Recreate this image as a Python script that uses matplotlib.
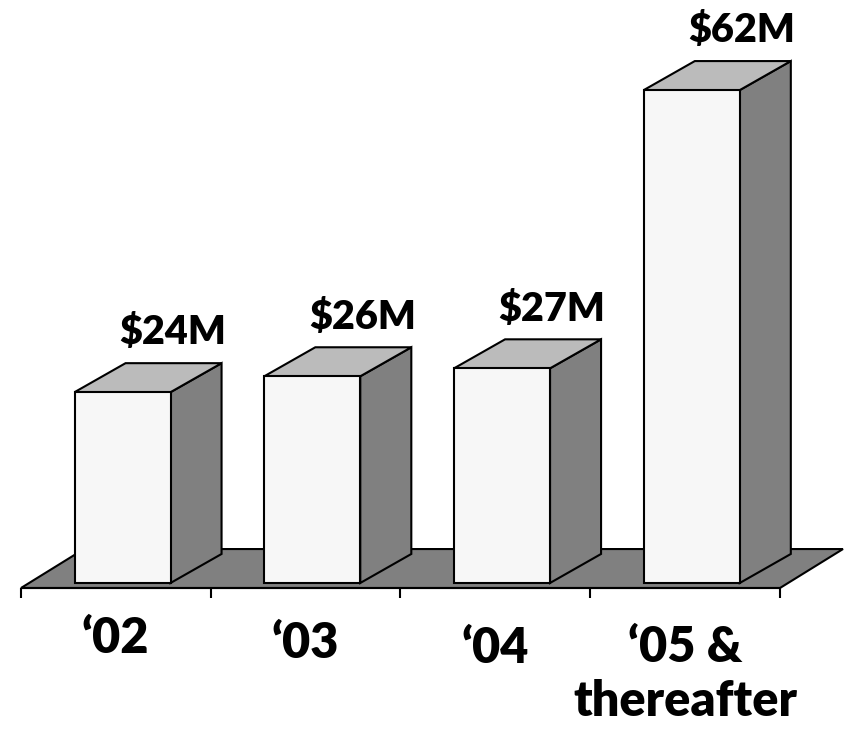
import matplotlib
matplotlib.use("Agg")
import matplotlib.pyplot as plt
from matplotlib.patches import Polygon

# data
categories = ["\u201802", "\u201803", "\u201804", "\u201805 &\nthereafter"]
values = [24, 26, 27, 62]
value_labels = ["$24M", "$26M", "$27M", "$62M"]

# 3d look (data units: x = category slots, y = $M)
bar_w = 0.506
floor_dx, floor_dy = 0.332, 4.9
front_dx, front_dy = 0.035, 0.63
depth_dx, depth_dy = 0.269, 3.65

FRONT = "#f7f7f7"
TOP = "#bbbbbb"
SIDE = "#808080"
lw = 1.5

fig = plt.figure(figsize=(8.45, 7.29), dpi=100)
ax = fig.add_axes([0, 0, 1, 1])
ax.set_xlim(-21 / 189.75, (845 - 21) / 189.75)
ax.set_ylim(-(729 - 588) / 7.95, 588 / 7.95)
ax.axis("off")

n = len(values)

# floor
floor = Polygon([(0, 0), (n, 0), (n + floor_dx, floor_dy), (floor_dx, floor_dy)],
                closed=True, facecolor=SIDE, edgecolor="black", lw=lw, zorder=1)
ax.add_patch(floor)

# axis line + ticks
ax.plot([0, n], [0, 0], color="black", lw=lw, zorder=2, solid_capstyle="butt")
for i in range(n + 1):
    ax.plot([i, i], [0, -1.25], color="black", lw=lw, zorder=2, solid_capstyle="butt")

# bars
for i, v in enumerate(values):
    x0 = i + 0.5 + front_dx - bar_w / 2
    x1 = x0 + bar_w
    y0 = front_dy
    y1 = y0 + v
    front = Polygon([(x0, y0), (x1, y0), (x1, y1), (x0, y1)],
                    facecolor=FRONT, edgecolor="black", lw=lw, zorder=3, joinstyle="miter")
    side = Polygon([(x1, y0), (x1 + depth_dx, y0 + depth_dy),
                    (x1 + depth_dx, y1 + depth_dy), (x1, y1)],
                   facecolor=SIDE, edgecolor="black", lw=lw, zorder=3, joinstyle="miter")
    top = Polygon([(x0, y1), (x1, y1), (x1 + depth_dx, y1 + depth_dy),
                   (x0 + depth_dx, y1 + depth_dy)],
                  facecolor=TOP, edgecolor="black", lw=lw, zorder=3, joinstyle="miter")
    for p in (side, top, front):
        ax.add_patch(p)
    ax.text(i + 0.5 + front_dx + 0.264, y1 + depth_dy + 3.8, value_labels[i],
            ha="center", va="center", fontsize=28.5, fontweight="heavy",
            family="Lato", zorder=4)

# category labels (va=baseline pins the last line; lift multi-line ones to fit)
line_step = 6.8
for i, lab in enumerate(categories):
    extra = lab.count("\n")
    ax.text(i + 0.5, -8.18 - 0.63 * i + extra * (0.8 - line_step), lab,
            ha="center", va="baseline", fontsize=35, fontweight="heavy",
            family="Lato", linespacing=1.23, multialignment="center")

fig.savefig("out.png", dpi=100)
